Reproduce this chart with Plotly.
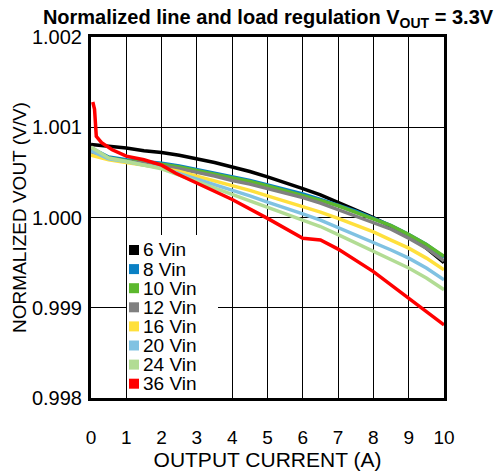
import plotly.graph_objects as go

# ---- data ----
series_names = ["6 Vin", "8 Vin", "10 Vin", "12 Vin", "16 Vin", "20 Vin", "24 Vin", "36 Vin"]
series_colors = ["#000000", "#0a80c4", "#5cb82e", "#808080", "#ffe03c", "#80c2e2", "#b2dc94", "#ff0000"]

x_std = [0, 0.5, 1, 1.5, 2, 2.5, 3, 3.5, 4, 4.5, 5, 5.5, 6, 6.5, 7, 7.5, 8, 8.5, 9, 9.5, 10]

y_6 = [1.00081, 1.00079, 1.00077, 1.00074, 1.00072, 1.00069, 1.00065, 1.00061, 1.00056, 1.00051,
       1.00045, 1.00039, 1.00032, 1.00025, 1.00017, 1.00009, 1.00000, 0.99990, 0.99980, 0.99966, 0.99950]
y_8 = [1.00077, 1.00067, 1.00064, 1.00062, 1.00060, 1.00057, 1.00053, 1.00049, 1.00045, 1.00041,
       1.00036, 1.00031, 1.00026, 1.00020, 1.00014, 1.00007, 0.99999, 0.99991, 0.99981, 0.99970, 0.99956]
y_10 = [1.00075, 1.00066, 1.00063, 1.00061, 1.00059, 1.00056, 1.00052, 1.00048, 1.00044, 1.00040,
        1.00035, 1.00030, 1.00025, 1.00019, 1.00013, 1.00006, 0.99999, 0.99991, 0.99981, 0.99970, 0.99957]
y_12 = [1.00073, 1.00065, 1.00062, 1.00060, 1.00057, 1.00054, 1.00050, 1.00046, 1.00041, 1.00037,
        1.00032, 1.00027, 1.00022, 1.00016, 1.00009, 1.00002, 0.99995, 0.99987, 0.99977, 0.99966, 0.99952]
y_16 = [1.00069, 1.00064, 1.00061, 1.00058, 1.00055, 1.00051, 1.00046, 1.00041, 1.00035, 1.00030,
        1.00024, 1.00018, 1.00012, 1.00006, 0.99999, 0.99992, 0.99984, 0.99975, 0.99966, 0.99955, 0.99942]
y_20 = [1.00074, 1.00065, 1.00062, 1.00058, 1.00055, 1.00049, 1.00043, 1.00037, 1.00030, 1.00024,
        1.00017, 1.00011, 1.00004, 0.99997, 0.99989, 0.99981, 0.99972, 0.99964, 0.99955, 0.99944, 0.99931]
y_24 = [1.00078, 1.00066, 1.00062, 1.00058, 1.00054, 1.00047, 1.00040, 1.00033, 1.00026, 1.00019,
        1.00012, 1.00005, 0.99998, 0.99990, 0.99981, 0.99972, 0.99962, 0.99953, 0.99944, 0.99933, 0.99920]

x_36 = [0.05, 0.1, 0.15, 0.3, 0.6, 1.0, 1.5, 2.0, 2.4, 3.0, 4.0, 5.0, 6.0, 6.5, 7.0, 8.0, 9.0, 10.0]
y_36 = [1.00128, 1.00120, 1.00090, 1.00083, 1.00075, 1.00068, 1.00064, 1.00058, 1.00049, 1.00038,
        1.00020, 0.99999, 0.99977, 0.99975, 0.99965, 0.99940, 0.99910, 0.99881]

x_series = [x_std, x_std, x_std, x_std, x_std, x_std, x_std, x_36]
y_series = [y_6, y_8, y_10, y_12, y_16, y_20, y_24, y_36]

x_ticks = [0, 1, 2, 3, 4, 5, 6, 7, 8, 9, 10]
y_ticks = [0.998, 0.999, 1.000, 1.001, 1.002]
y_ticktext = ["0.998", "0.999", "1.000", "1.001", "1.002"]

FONT = "Arial, Liberation Sans, sans-serif"

# figure fills the whole 502x476 window (body margin removed by post_script)
FIG_W, FIG_H = 502, 476
PLOT_LEFT, PLOT_RIGHT, PLOT_TOP, PLOT_BOTTOM = 91, 444, 37, 398
PW = PLOT_RIGHT - PLOT_LEFT
PH = PLOT_BOTTOM - PLOT_TOP

def py(px):  # pixel y -> paper y
    return (PLOT_BOTTOM - px) / PH
def pxx(px):  # pixel x -> paper x
    return (px - PLOT_LEFT) / PW

fig = go.Figure()
for name, color, xs, ys in zip(series_names, series_colors, x_series, y_series):
    fig.add_trace(go.Scatter(x=xs, y=ys, mode="lines", name=name,
                             line=dict(color=color, width=3.5), showlegend=False))

# ---- compact legend, like the reference ----
shapes = [dict(type="rect", xref="paper", yref="paper", x0=pxx(127), x1=pxx(218),
               y0=0, y1=py(235), fillcolor="white", line=dict(width=0), layer="above")]
annotations = []
for i, (name, color) in enumerate(zip(series_names, series_colors)):
    cy = 250 + 19.1 * i
    shapes.append(dict(type="rect", xref="paper", yref="paper", x0=pxx(129), x1=pxx(139),
                       y0=py(cy + 5), y1=py(cy - 5), fillcolor=color, line=dict(width=0), layer="above"))
    annotations.append(dict(xref="paper", yref="paper", x=pxx(141), y=py(cy), text=name,
                            showarrow=False, xanchor="left", yanchor="middle",
                            font=dict(family=FONT, size=19, color="black")))

fig.update_layout(
    width=FIG_W, height=FIG_H,
    margin=dict(l=PLOT_LEFT, r=FIG_W - PLOT_RIGHT, t=PLOT_TOP, b=FIG_H - PLOT_BOTTOM, autoexpand=False),
    paper_bgcolor="white", plot_bgcolor="white",
    title=dict(text="<b>Normalized line and load regulation V<sub>OUT</sub> = 3.3V</b>",
               x=268 / FIG_W, xanchor="center", xref="container",
               y=1 - 17 / FIG_H, yref="container", yanchor="middle", automargin=False,
               font=dict(family=FONT, size=20, color="black")),
    shapes=shapes, annotations=annotations,
    font=dict(family=FONT, color="black"),
)
fig.update_xaxes(range=[0, 10], tickvals=x_ticks, ticks="", showgrid=True, gridcolor="black", gridwidth=1,
                 showline=True, linecolor="black", linewidth=3, mirror=True, zeroline=False, automargin=False,
                 tickfont=dict(size=19), ticklabelstandoff=20,
                 title=dict(text="OUTPUT CURRENT (A)", font=dict(size=21), standoff=6))
fig.update_yaxes(range=[0.998, 1.002], tickvals=y_ticks, ticktext=y_ticktext, ticks="", showgrid=True,
                 gridcolor="black", gridwidth=1, showline=True, linecolor="black", linewidth=3, mirror=True,
                 zeroline=False, automargin=False, tickfont=dict(size=20), ticklabelstandoff=2,
                 title=dict(text="NORMALIZED VOUT (V/V)", font=dict(size=19), standoff=1))

fig.write_html("out.html", config={"displayModeBar": False},
               post_script="document.body.style.margin='0';")
